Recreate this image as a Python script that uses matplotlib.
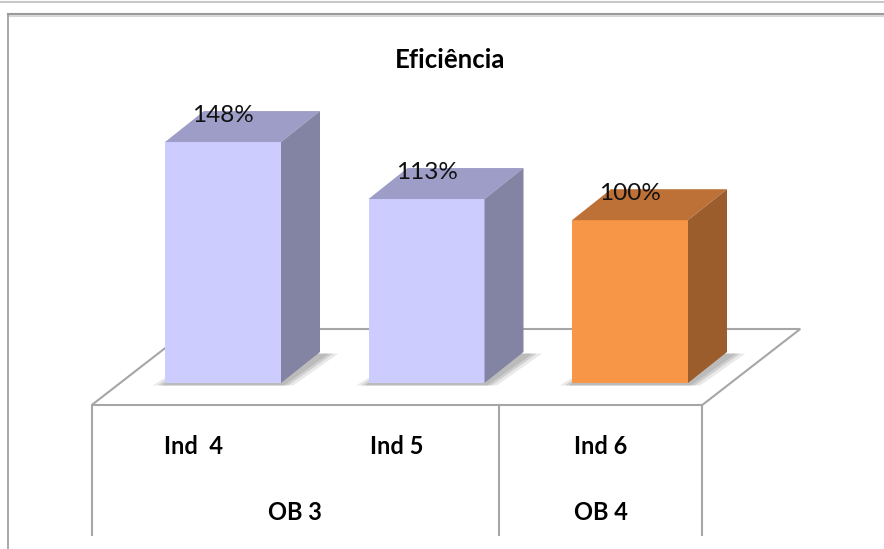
import matplotlib
matplotlib.use('Agg')
import matplotlib.pyplot as plt
from matplotlib.patches import Polygon
import numpy as np

plt.rcParams['font.family'] = ['Lato', 'DejaVu Sans']

# data
categories = ['Ind  4', 'Ind 5', 'Ind 6']
groups = ['OB 3', 'OB 3', 'OB 4']
values = [148, 113, 100]
value_labels = ['148%', '113%', '100%']
title = 'Eficiência'

# style
front_colors = ['#CCCCFF', '#CCCCFF', '#F79646']
top_colors = ['#9D9DC7', '#9D9DC7', '#BD7137']
side_colors = ['#8383A3', '#8383A3', '#9B5D2C']
edge_gray = '#A6A6A6'

px_per_cat = 203.5
px_per_val = 1.628
bar_w = 116 / px_per_cat
bar_shift = 29.5 / px_per_cat
dx = 39 / px_per_cat
dy = 31 / px_per_val
floor_front = -22 / px_per_val
floor_back = 54 / px_per_val
floor_dx = 98 / px_per_cat
table_bottom = -152 / px_per_val

fig = plt.figure(figsize=(8.84, 5.49), dpi=100)
ax = fig.add_axes([0, 0, 1, 1])
ax.set_xlim(-193.5 / px_per_cat, (884 - 193.5) / px_per_cat)
ax.set_ylim(-(549 - 383) / px_per_val, 383 / px_per_val)
ax.axis('off')

# outer frame
ax.plot([0, 1], [0.997, 0.997], transform=ax.transAxes, color='#C8C8C8', lw=1.5, clip_on=False)
ax.plot([8 / 884, 1], [1 - 14 / 549, 1 - 14 / 549], transform=ax.transAxes, color='#9A9A9A', lw=1.5)
ax.plot([8 / 884, 1], [1 - 16 / 549, 1 - 16 / 549], transform=ax.transAxes, color='#D8D8D8', lw=1.5)
ax.plot([8 / 884, 8 / 884], [0, 1 - 14 / 549], transform=ax.transAxes, color='#9A9A9A', lw=1.2)

x = np.arange(len(categories))
left_edge = -0.5
right_edge = len(categories) - 0.5

# floor
floor = Polygon([(left_edge, floor_front), (right_edge, floor_front),
                 (right_edge + floor_dx, floor_back), (left_edge + floor_dx, floor_back)],
                closed=True, facecolor='white', edgecolor=edge_gray, lw=1.5, zorder=1)
ax.add_patch(floor)

# table lines under floor
bounds = [left_edge]
for i in range(1, len(groups)):
    if groups[i] != groups[i - 1]:
        bounds.append(i - 0.5)
bounds.append(right_edge)
for b in bounds:
    ax.plot([b, b], [floor_front, table_bottom], color=edge_gray, lw=1.5, zorder=1)

# bars
for i, v in enumerate(values):
    l = x[i] + bar_shift - bar_w / 2
    r = l + bar_w
    for grow, alpha in [(0.06, 0.25), (0.035, 0.4), (0.015, 0.5)]:
        shadow = Polygon([(l - grow, -1.5), (r + grow, -1.5),
                          (r + dx + grow + 0.03, dy - 1), (l + dx, dy - 1)],
                         closed=True, facecolor='#A8A8A8', edgecolor='none', alpha=alpha, zorder=2)
        ax.add_patch(shadow)
    ax.bar(x[i] + bar_shift, v, width=bar_w, color=front_colors[i], zorder=4)
    ax.add_patch(Polygon([(l, v), (r, v), (r + dx, v + dy), (l + dx, v + dy)],
                         closed=True, facecolor=top_colors[i], edgecolor='none', zorder=4))
    ax.add_patch(Polygon([(r, 0), (r + dx, dy), (r + dx, v + dy), (r, v)],
                         closed=True, facecolor=side_colors[i], edgecolor='none', zorder=4))
    ax.text(x[i] + bar_shift, v + 27 / px_per_val, value_labels[i], ha='center', va='center',
            fontsize=17.5, color='#111111', zorder=5)

# category and group labels
for i, c in enumerate(categories):
    ax.text(x[i], -64 / px_per_val, c, ha='center', va='center', fontsize=17,
            fontweight='bold', color='black')
for g in dict.fromkeys(groups):
    idx = [i for i, gg in enumerate(groups) if gg == g]
    ax.text(np.mean(idx), -129 / px_per_val, g, ha='center', va='center', fontsize=17,
            fontweight='bold', color='black')

ax.text(450 / 884, 1 - 60 / 549, title, transform=ax.transAxes, ha='center', va='center',
        fontsize=18.5, fontweight='bold', color='black')

fig.savefig('out.png', dpi=100)
